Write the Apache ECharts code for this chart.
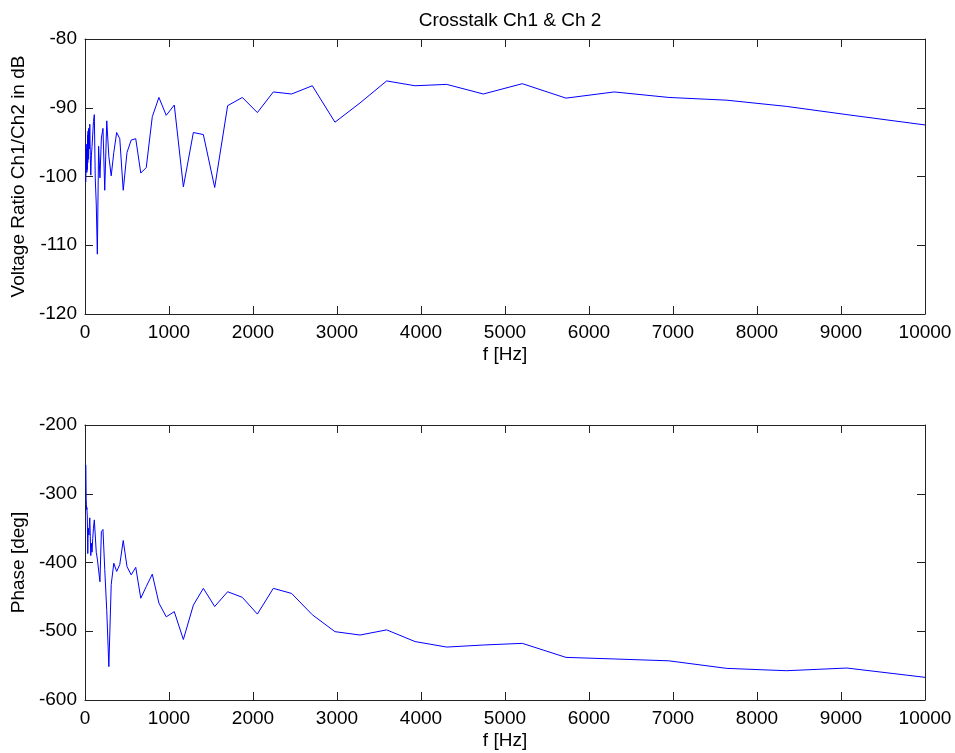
<!DOCTYPE html>
<html>
<head>
<meta charset="utf-8">
<title>Crosstalk Ch1 & Ch 2</title>
<script src="https://cdn.jsdelivr.net/npm/echarts@6/dist/echarts.min.js"></script>
<style>
  html, body { margin: 0; padding: 0; background: #fff; }
  #chart { width: 955px; height: 753px; }
</style>
</head>
<body>
<div id="chart"></div>
<script>
// Measurement frequencies (Hz), roughly log spaced
const freqHz = [10, 14, 17, 20, 22, 25, 27, 30, 33, 36, 39, 43, 48, 52, 57, 63, 69, 76, 84, 92,
  101, 111, 122, 134, 147, 162, 178, 195, 214, 235, 259, 284, 312, 343, 377, 414, 455, 500,
  550, 604, 664, 729, 801, 880, 967, 1063, 1171, 1290, 1409, 1544, 1698, 1873, 2052, 2242,
  2460, 2706, 2976, 3274, 3591, 3929, 4306, 4742, 5206, 5726, 6300, 6950, 7640, 8350, 9070, 10000];

// Voltage ratio Ch1/Ch2 (dB)
const ratioDb = [-100.8, -95.3, -99.0, -96.0, -99.4, -97.0, -99.0, -94.0, -98.0, -93.4,
  -97.5, -93.0, -93.4, -96.0, -92.4, -97.0, -99.8, -97.0, -95.6, -95.6,
  -92.0, -91.0, -100.2, -104.0, -111.3, -95.6, -100.2, -94.4, -93.0, -102.0,
  -91.9, -97.1, -99.9, -96.5, -93.6, -94.5, -102.0, -96.5,
  -94.7, -94.5, -99.5, -98.7, -91.3, -88.5, -91.1, -89.6, -101.5, -93.6, -93.9, -101.6, -89.7, -88.5, -90.7, -87.7,
  -88.0, -86.8, -92.1, -89.3, -86.1, -86.8, -86.6, -88.0, -86.5, -88.6, -87.7, -88.5, -88.9, -89.8, -91.0, -92.5];

// Phase (deg)
const phaseDeg = [-258, -309, -316, -323, -320, -328, -331, -360, -387, -365,
  -350, -356, -360, -345, -335, -362, -390, -372, -385, -365,
  -350, -338, -360, -385, -395, -411, -428, -355, -352, -410,
  -470, -551.5, -432, -401, -413, -403, -368, -406,
  -418, -407, -452, -435, -417, -459, -479, -471.5, -512, -462, -437.6, -464, -442.5, -450.7, -475, -437.6,
  -445, -476, -500.6, -505.5, -498, -515, -523, -520, -517.6, -538, -540.3, -543, -554, -557.4, -553.5, -567];

// Tick label sets
const freqTicks = [0, 1000, 2000, 3000, 4000, 5000, 6000, 7000, 8000, 9000, 10000];
const dbTicks = [-120, -110, -100, -90, -80];
const phaseTicks = [-600, -500, -400, -300, -200];

const FONT = 'Liberation Sans, Arial, Helvetica, sans-serif';
const LABEL = { color: '#000', fontFamily: FONT, fontSize: 19 };

function frameAxes(gridIndex, yMin, yMax, yStep, yName) {
  const tick = { show: true, inside: true, length: 8, lineStyle: { color: '#222', width: 1 } };
  const line = { show: true, onZero: false, lineStyle: { color: '#222', width: 1 } };
  return {
    x: [
      {
        type: 'value', gridIndex, position: 'bottom', min: 0, max: 10000, interval: 1000,
        axisLine: line, axisTick: tick, splitLine: { show: false },
        axisLabel: Object.assign({ margin: 9, formatter: v => freqTicks.includes(v) ? String(v) : '' }, LABEL),
        name: 'f [Hz]', nameLocation: 'middle', nameGap: 31, nameTextStyle: LABEL
      },
      {
        type: 'value', gridIndex, position: 'top', min: 0, max: 10000, interval: 1000,
        axisLine: line, axisTick: tick, axisLabel: { show: false }, splitLine: { show: false }
      }
    ],
    y: [
      {
        type: 'value', gridIndex, position: 'left', min: yMin, max: yMax, interval: yStep,
        axisLine: line, axisTick: tick, splitLine: { show: false },
        axisLabel: Object.assign({ margin: 8 }, LABEL),
        name: yName, nameLocation: 'middle', nameGap: 55, nameTextStyle: LABEL
      },
      {
        type: 'value', gridIndex, position: 'right', min: yMin, max: yMax, interval: yStep,
        axisLine: line, axisTick: tick, axisLabel: { show: false }, splitLine: { show: false }
      }
    ]
  };
}

const ratioAxes = frameAxes(0, dbTicks[0], dbTicks[dbTicks.length - 1], 10, 'Voltage Ratio Ch1/Ch2 in dB');
const phaseAxes = frameAxes(1, phaseTicks[0], phaseTicks[phaseTicks.length - 1], 100, 'Phase [deg]');

const chart = echarts.init(document.getElementById('chart'), null, { renderer: 'canvas' });
chart.setOption({
  animation: false,
  backgroundColor: '#ffffff',
  title: {
    text: 'Crosstalk Ch1 & Ch 2',
    left: 505, top: 6, textAlign: 'center',
    textStyle: { color: '#000', fontFamily: FONT, fontSize: 19, fontWeight: 'normal' }
  },
  grid: [
    { left: 85, top: 39, width: 840, height: 275 },
    { left: 85, top: 425, width: 840, height: 275 }
  ],
  xAxis: ratioAxes.x.concat(phaseAxes.x),
  yAxis: ratioAxes.y.concat(phaseAxes.y),
  series: [
    {
      type: 'line', xAxisIndex: 0, yAxisIndex: 0, showSymbol: false,
      data: freqHz.map((f, i) => [f, ratioDb[i]]),
      lineStyle: { color: '#0000ff', width: 1 }
    },
    {
      type: 'line', xAxisIndex: 2, yAxisIndex: 2, showSymbol: false,
      data: freqHz.map((f, i) => [f, phaseDeg[i]]),
      lineStyle: { color: '#0000ff', width: 1 }
    }
  ]
});
</script>
</body>
</html>
